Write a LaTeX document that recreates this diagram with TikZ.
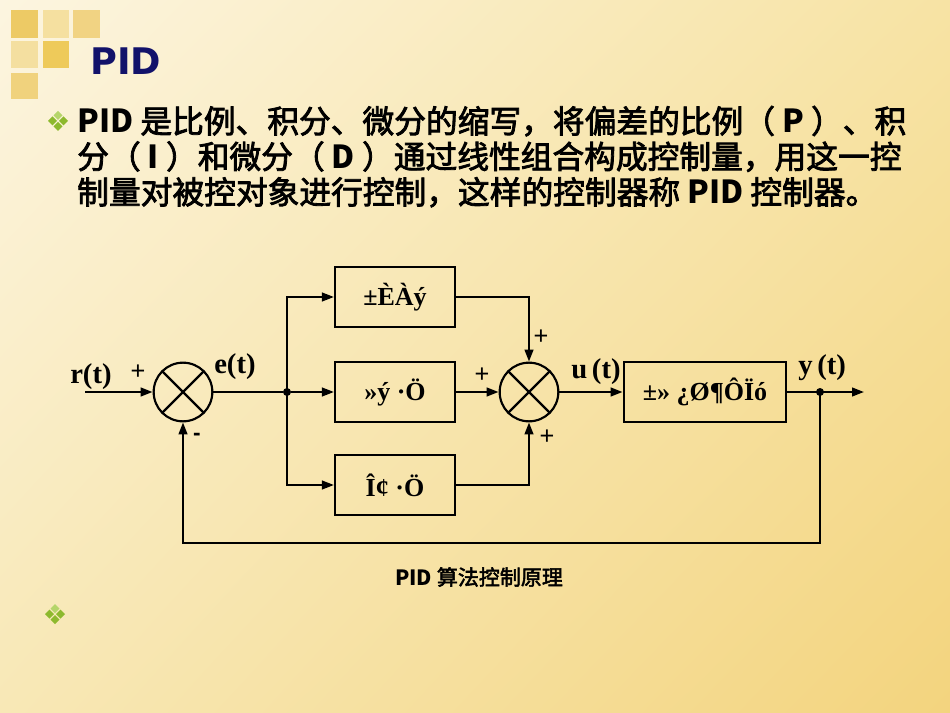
\documentclass[tikz,border=0pt]{standalone}
\usepackage{fontspec}
\setmainfont{Liberation Serif}
\newfontfamily\cjk{Noto Sans CJK SC}[FakeBold=2.5]
\newfontfamily\cjkB{Noto Sans CJK SC}
\newcommand{\lat}[1]{{\cjkB\bfseries #1}}
\newfontfamily\titlefont{DejaVu Sans}
\newfontfamily\plusfont{Liberation Sans}
\usetikzlibrary{arrows.meta,shapes.geometric,shadings}
\definecolor{bgUL}{HTML}{FCF5E0}
\definecolor{bgUR}{HTML}{F7E3A4}
\definecolor{bgLL}{HTML}{F8E8B6}
\definecolor{bgLR}{HTML}{F3D47E}
\definecolor{sqA}{HTML}{EDCA65}
\definecolor{sqB}{HTML}{F5E0A0}
\definecolor{sqC}{HTML}{F1D383}
\definecolor{sqD}{HTML}{F4DFA0}
\definecolor{sqE}{HTML}{EECA5A}
\definecolor{sqF}{HTML}{F0D27D}
\definecolor{navy}{HTML}{12126A}
\definecolor{gDark}{HTML}{8DB92E}
\definecolor{gLight}{HTML}{B5D56A}
\tikzset{
  bodyline/.style={anchor=base west, inner sep=0pt, font=\cjk\fontsize{23.8}{26}\selectfont},
  blk/.style={draw, rectangle, inner sep=0pt, minimum width=90pt, minimum height=45pt,
    line width=1.6pt, font=\bfseries\fontsize{19.5}{22}\selectfont},
  sumnode/.style={draw, circle, inner sep=0pt, minimum size=44pt, line width=1.6pt},
  sig/.style={anchor=base west, inner sep=0pt, font=\bfseries\fontsize{21.5}{24}\selectfont},
  sgn/.style={inner sep=0pt, font=\plusfont\fontsize{19}{20}\selectfont},
  dot/.style={circle, fill=black, inner sep=0pt, minimum size=6pt},
  wire/.style={line width=1.6pt},
  quad/.pic={
    \fill[gLight] (0,-10)--(4.5,-5.5)--(0,-1)--(-4.5,-5.5)--cycle;
    \fill[gDark] (10,0)--(5.5,4.5)--(1,0)--(5.5,-4.5)--cycle;
    \fill[gDark] (0,10)--(4.5,5.5)--(0,1)--(-4.5,5.5)--cycle;
    \fill[gDark] (-10,0)--(-5.5,4.5)--(-1,0)--(-5.5,-4.5)--cycle;
  }
}
\begin{document}
\begin{tikzpicture}[x=0.75pt,y=-0.75pt, >={Triangle[length=9pt,width=6.5pt]}]
\useasboundingbox (0,0) rectangle (950,713);
\shade[upper left=bgUL, upper right=bgUR, lower left=bgLL, lower right=bgLR] (0,0) rectangle (950,713);
% decorative squares
\fill[sqA] (11,10) rectangle (38,38);
\fill[sqB] (43,10) rectangle (69,38);
\fill[sqC] (73,10) rectangle (100,38);
\fill[sqD] (11,41) rectangle (38,68);
\fill[sqE] (43,41) rectangle (69,68);
\fill[sqF] (11,73) rectangle (38,99);
% title
\node[anchor=base west, inner sep=0pt, text=navy, font=\titlefont\bfseries\fontsize{27.5}{30}\selectfont] (title) at (90,75) {PID};
% bullets and text
\pic at (58,121) {quad};
\node[bodyline] (l1) at (77,133) {\lat{PID} 是比例、积分、微分的缩写，将偏差的比例（ \lat{P} ）、积};
\node[bodyline] (l2) at (77,168.5) {分（ \lat{I} ）和微分（ \lat{D} ）通过线性组合构成控制量，用这一控};
\node[bodyline] (l3) at (77,204) {制量对被控对象进行控制，这样的控制器称 \lat{PID} 控制器。};
\pic at (55,614) {quad};
% diagram
\node[sumnode] (s1) at (183,392) {};
\node[sumnode] (s2) at (529,392) {};
\draw[wire] (s1.45) -- (s1.225) (s1.135) -- (s1.315);
\draw[wire] (s2.45) -- (s2.225) (s2.135) -- (s2.315);
\node[blk] (P) at (395,297) {±ÈÀý};
\node[blk] (I) at (395,392) {»ý ·Ö};
\node[blk] (D) at (395,485) {Î¢ ·Ö};
\node[blk, minimum width=122pt] (G) at (705,392) {±» ¿Ø¶ÔÏó};
\coordinate (in) at (85,392);
\coordinate (out) at (864,392);
\node[dot] (j) at (287,392) {};
\node[dot] (yj) at (820,392) {};
\coordinate (fb) at (820,543);
\draw[wire,->] (in) -- (s1);
\draw[wire] (s1) -- (j);
\draw[wire,->] (j) -- (I);
\draw[wire,->] (j.center) |- (P);
\draw[wire,->] (j.center) |- (D);
\draw[wire,->] (P) -| (s2);
\draw[wire,->] (I) -- (s2);
\draw[wire,->] (D) -| (s2);
\draw[wire,->] (s2) -- (G);
\draw[wire,->] (G) -- (out);
\draw[wire,->] (yj.center) -- (fb) -| (s1);
% labels
\node[sig] (rt) at (70,383) {r(t)};
\node[sig] (et) at (214,373) {e(t)};
\node[sig] (ut) at (571,378) {u\,(t)};
\node[sig] (yt) at (798,374) {y\,(t)};
\node[sgn] (p1) at (138,372) {+};
\node[sgn, font=\plusfont\bfseries\fontsize{17}{18}\selectfont] (m1) at (197,437) {-};
\node[sgn] (p2) at (541,337) {+};
\node[sgn] (p3) at (482,375) {+};
\node[sgn] (p4) at (547,437) {+};
% caption
\node[inner sep=0pt, font=\cjk\fontsize{15.75}{18}\selectfont] (cap) at (479,577) {\lat{PID} 算法控制原理};
\end{tikzpicture}
\end{document}
